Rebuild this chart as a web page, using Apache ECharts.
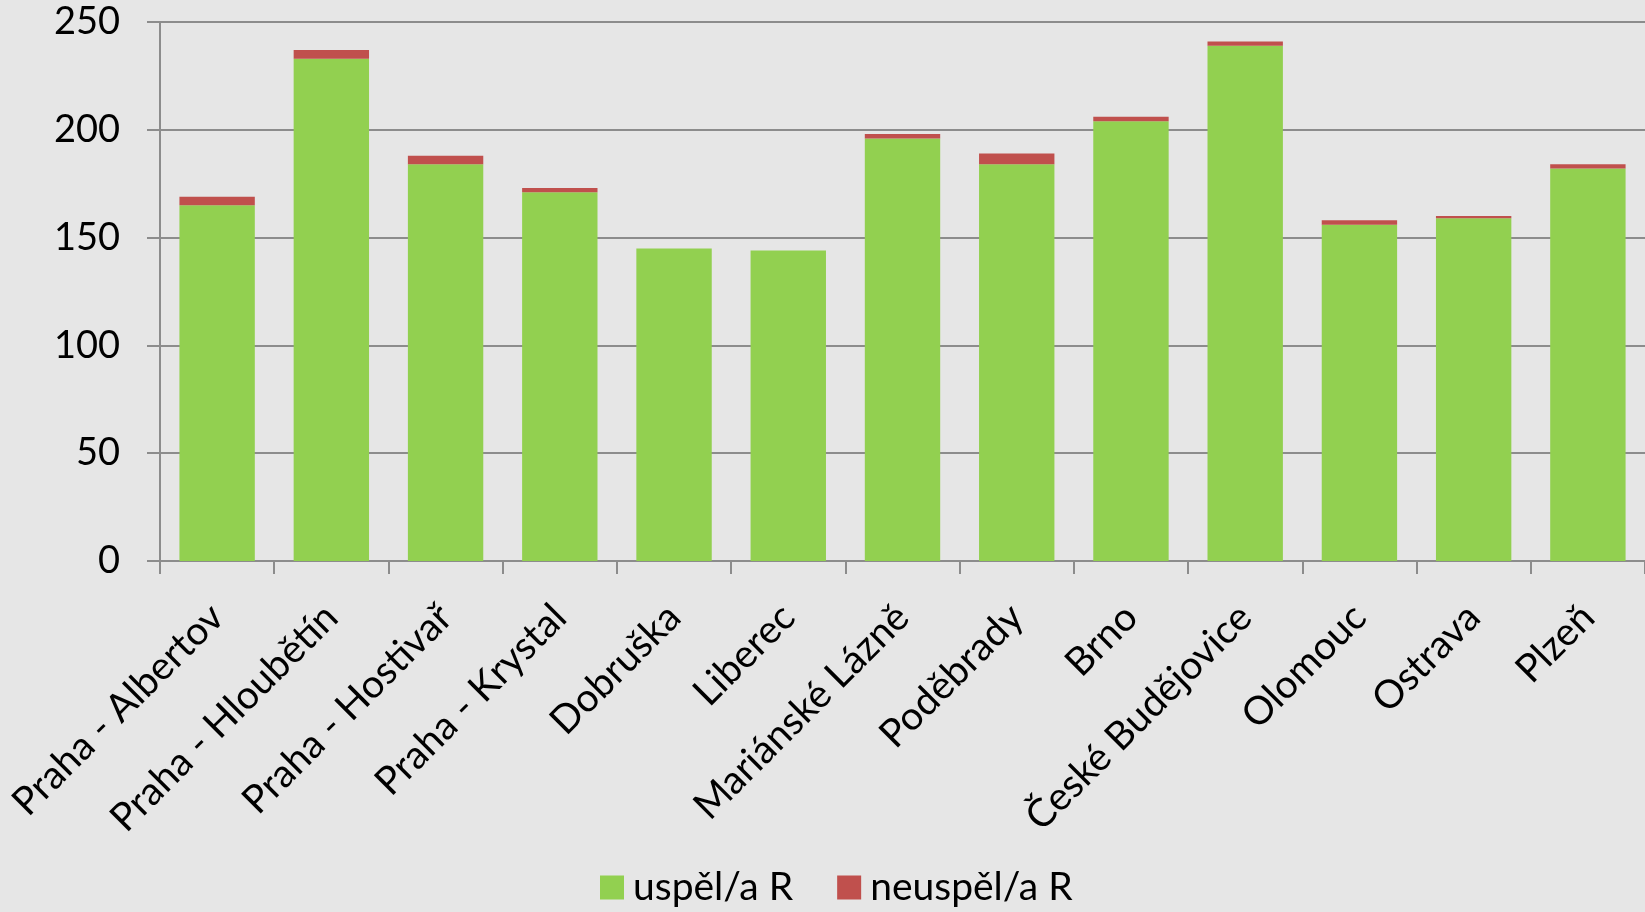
<!DOCTYPE html>
<html>
<head>
<meta charset="utf-8">
<script src="https://cdn.jsdelivr.net/npm/echarts@6/dist/echarts.min.js"></script>
<style>
  html, body { margin: 0; padding: 0; background: #e6e6e6; }
  #chart { width: 1645px; height: 912px; }
</style>
</head>
<body>
<div id="chart"></div>
<script>
// kategorie (místa zkoušek)
const mista = ["Praha - Albertov", "Praha - Hloubětín", "Praha - Hostivař", "Praha - Krystal",
  "Dobruška", "Liberec", "Mariánské Lázně", "Poděbrady", "Brno", "České Budějovice",
  "Olomouc", "Ostrava", "Plzeň"];
const uspel = [165, 233, 184, 171, 145, 144, 196, 184, 204, 239, 156, 159, 182];
const neuspel = [4, 4, 4, 2, 0, 0, 2, 5, 2, 2, 2, 1, 2];
const yTicks = [0, 50, 100, 150, 200, 250];

const font = "Lato, 'Open Sans', sans-serif";
const chart = echarts.init(document.getElementById("chart"));
chart.setOption({
  backgroundColor: "#e6e6e6",
  animation: false,
  grid: { left: 160, right: 0, top: 22, bottom: 351, containLabel: false },
  legend: {
    top: 868,
    left: 600,
    padding: 0,
    itemWidth: 24,
    itemHeight: 24,
    itemGap: 44,
    icon: "rect",
    textStyle: { fontFamily: font, fontSize: 39, color: "#000", padding: [0, 0, 0, 4] },
    data: ["uspěl/a R", "neuspěl/a R"]
  },
  xAxis: {
    type: "category",
    data: mista,
    axisLine: { lineStyle: { color: "#8c8c8c", width: 2 } },
    axisTick: { show: true, length: 13, lineStyle: { color: "#8c8c8c", width: 2 } },
    axisLabel: {
      rotate: 45,
      interval: 0,
      margin: 50,
      fontFamily: font,
      fontSize: 39,
      color: "#000"
    }
  },
  yAxis: {
    type: "value",
    min: yTicks[0],
    max: yTicks[yTicks.length - 1],
    interval: 50,
    axisLine: { show: true, lineStyle: { color: "#8c8c8c", width: 2 } },
    axisTick: { show: true, length: 13, lineStyle: { color: "#8c8c8c", width: 2 } },
    axisLabel: { margin: 40, fontFamily: font, fontSize: 38, color: "#000" },
    splitLine: { lineStyle: { color: "#8c8c8c", width: 2 } }
  },
  series: [
    {
      name: "uspěl/a R",
      type: "bar",
      stack: "total",
      barCategoryGap: "34%",
      itemStyle: { color: "#92d050" },
      data: uspel
    },
    {
      name: "neuspěl/a R",
      type: "bar",
      stack: "total",
      itemStyle: { color: "#c0504d" },
      data: neuspel
    }
  ]
});
</script>
</body>
</html>
